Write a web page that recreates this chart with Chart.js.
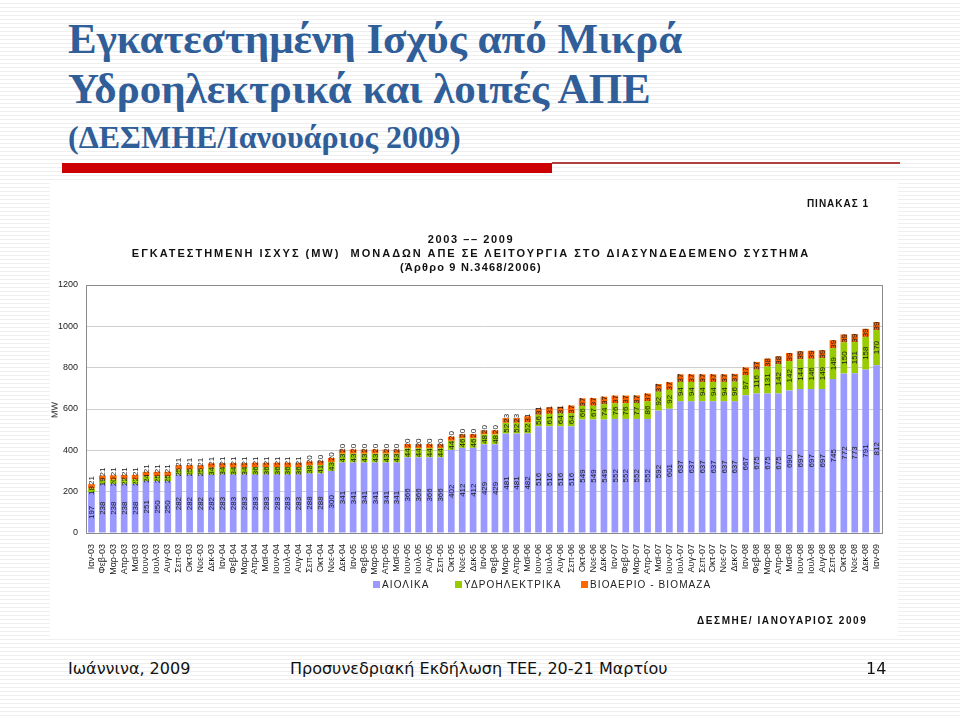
<!DOCTYPE html>
<html><head><meta charset="utf-8">
<script src="https://cdn.jsdelivr.net/npm/chart.js@4"></script>
<style>
html,body{margin:0;padding:0;}
body{width:960px;height:717px;position:relative;overflow:hidden;
 background:#fff repeating-linear-gradient(to bottom,#fff 0,#fff 3px,#efefef 3px,#efefef 4px);
 font-family:"Liberation Sans",Arial,sans-serif;}
.t{position:absolute;white-space:nowrap;transform:translateY(-50%);line-height:1;}
.title{position:absolute;left:68px;font-family:"Liberation Serif","Times New Roman",serif;font-weight:bold;line-height:1;color:#2F5E99;white-space:nowrap;}
.redbar{position:absolute;left:62px;top:163px;width:490px;height:10px;background:#CC0000;}
.thin{position:absolute;left:552px;top:162px;width:348px;height:2px;background:#B04040;}
.panel{position:absolute;left:50px;top:183px;width:848px;height:453px;background:#fff;}
#c{position:absolute;left:40px;top:182px;}
.b{font-weight:bold;color:#111;}
.ctr{transform:translate(-50%,-50%);}
.leg{position:absolute;top:579px;font-size:10px;letter-spacing:1.1px;color:#222;white-space:nowrap;}
.leg i{display:inline-block;width:7px;height:7px;margin-right:2px;vertical-align:0px;}
.foot{position:absolute;top:668px;transform:translateY(-50%);font-family:"DejaVu Sans",Verdana,sans-serif;font-size:16px;color:#111;white-space:nowrap;}
</style></head>
<body>
<div class="title" style="top:17px;font-size:43px;">Εγκατεστημένη Ισχύς από Μικρά</div>
<div class="title" style="top:67px;font-size:43px;">Υδροηλεκτρικά και λοιπές ΑΠΕ</div>
<div class="title" style="top:121px;font-size:32px;">(ΔΕΣΜΗΕ/Ιανουάριος 2009)</div>
<div class="redbar"></div><div class="thin"></div>
<div class="panel"></div>
<canvas id="c" width="860" height="458"></canvas>
<div class="t b ctr" style="left:838px;top:204px;font-size:10px;letter-spacing:1px;">ΠΙΝΑΚΑΣ 1</div>
<div class="t b ctr" style="left:471px;top:239px;font-size:11px;letter-spacing:1.6px;">2003 –– 2009</div>
<div class="t b ctr" style="left:471px;top:253px;font-size:11px;letter-spacing:2px;">ΕΓΚΑΤΕΣΤΗΜΕΝΗ ΙΣΧΥΣ (MW)&nbsp; ΜΟΝΑΔΩΝ ΑΠΕ ΣΕ ΛΕΙΤΟΥΡΓΙΑ ΣΤΟ ΔΙΑΣΥΝΔΕΔΕΜΕΝΟ ΣΥΣΤΗΜΑ</div>
<div class="t b ctr" style="left:471px;top:267px;font-size:11px;letter-spacing:1.2px;">(Άρθρο 9 Ν.3468/2006)</div>
<div class="t" style="left:55px;top:410px;font-size:9px;color:#222;transform:translate(-50%,-50%) rotate(-90deg);">MW</div>
<div class="leg" style="left:373px;"><i style="background:#9999FF"></i>ΑΙΟΛΙΚΑ</div>
<div class="leg" style="left:455px;"><i style="background:#99CC00"></i>ΥΔΡΟΗΛΕΚΤΡΙΚΑ</div>
<div class="leg" style="left:581px;"><i style="background:#FF6600"></i>ΒΙΟΑΕΡΙΟ - ΒΙΟΜΑΖΑ</div>
<div class="t b" style="left:697px;top:621px;font-size:10px;letter-spacing:1.6px;">ΔΕΣΜΗΕ/ ΙΑΝΟΥΑΡΙΟΣ 2009</div>
<div class="foot" style="left:68px;">Ιωάννινα, 2009</div>
<div class="foot" style="left:290px;">Προσυνεδριακή Εκδήλωση ΤΕΕ, 20-21 Μαρτίου</div>
<div class="foot" style="left:866px;">14</div>
<script>
const months = [
 'Ιαν-03','Φεβ-03','Μαρ-03','Απρ-03','Μαϊ-03','Ιουν-03','Ιουλ-03','Αυγ-03','Σεπ-03','Οκτ-03','Νοε-03','Δεκ-03',
 'Ιαν-04','Φεβ-04','Μαρ-04','Απρ-04','Μαϊ-04','Ιουν-04','Ιουλ-04','Αυγ-04','Σεπ-04','Οκτ-04','Νοε-04','Δεκ-04',
 'Ιαν-05','Φεβ-05','Μαρ-05','Απρ-05','Μαϊ-05','Ιουν-05','Ιουλ-05','Αυγ-05','Σεπ-05','Οκτ-05','Νοε-05','Δεκ-05',
 'Ιαν-06','Φεβ-06','Μαρ-06','Απρ-06','Μαϊ-06','Ιουν-06','Ιουλ-06','Αυγ-06','Σεπ-06','Οκτ-06','Νοε-06','Δεκ-06',
 'Ιαν-07','Φεβ-07','Μαρ-07','Απρ-07','Μαϊ-07','Ιουν-07','Ιουλ-07','Αυγ-07','Σεπ-07','Οκτ-07','Νοε-07','Δεκ-07',
 'Ιαν-08','Φεβ-08','Μαρ-08','Απρ-08','Μαϊ-08','Ιουν-08','Ιουλ-08','Αυγ-08','Σεπ-08','Οκτ-08','Νοε-08','Δεκ-08',
 'Ιαν-09'];
const wind = [
 197,238,238,238,238,251,250,250,282,282,282,282,
 283,283,283,283,283,283,283,283,288,288,300,341,
 341,341,341,341,341,366,366,366,366,402,412,412,
 429,429,481,481,482,516,516,516,516,549,549,549,
 552,552,552,552,592,601,637,637,637,637,637,637,
 667,675,675,675,690,697,697,697,745,772,773,791,
 812];
const hydro = [
 18,19,20,22,22,24,25,25,25,25,25,34,
 34,34,34,36,36,36,36,36,38,41,43,43,
 43,43,43,43,43,44,44,44,44,44,46,46,
 48,48,52,52,52,56,61,64,64,66,67,74,
 76,76,77,86,92,92,94,94,94,94,94,96,
 97,116,131,142,142,144,146,149,149,150,151,158,
 170];
const bio = [
 21,21,21,21,21,21,21,21,21,21,21,21,
 21,21,21,21,21,21,21,21,20,20,20,20,
 20,20,20,20,20,20,20,20,20,20,20,20,
 20,20,23,23,31,31,31,31,37,37,37,37,
 37,37,37,37,37,37,37,37,37,37,37,37,
 37,37,38,38,39,39,39,39,39,39,39,39,
 39];
const yTicks = [0,200,400,600,800,1000,1200];

const segLabels = {
  id:'segLabels',
  afterDatasetsDraw(chart){
    const ctx = chart.ctx;
    ctx.save();
    ctx.font = '8px "Liberation Sans", Arial, sans-serif';
    ctx.fillStyle = '#1a1a1a';
    ctx.textAlign = 'center';
    ctx.textBaseline = 'middle';
    const m0 = chart.getDatasetMeta(0), m1 = chart.getDatasetMeta(1), m2 = chart.getDatasetMeta(2);
    const d = chart.data.datasets;
    const draw = (txt,x,y)=>{ctx.save();ctx.translate(x+0.5,y);ctx.rotate(-Math.PI/2);ctx.fillText(txt,0,0);ctx.restore();};
    m0.data.forEach((bar,j)=>{
      const b0 = bar, b1 = m1.data[j], b2 = m2.data[j];
      const t0 = String(d[0].data[j]), t1 = String(d[1].data[j]), t2 = String(d[2].data[j]);
      draw(t0, b0.x, (b0.y+b0.base)/2);
      const w1 = ctx.measureText(t1).width, w2 = ctx.measureText(t2).width;
      let c1 = (b1.y+b1.base)/2;
      let c2 = (b2.y+b2.base)/2;
      const minGap = w1/2 + w2/2 + 1;
      if (c1 - c2 < minGap) { c2 = c1 - minGap; }
      draw(t1, b1.x, c1);
      draw(t2, b2.x, c2);
    });
    ctx.restore();
  }
};
const frame = {
  id:'frame',
  afterDraw(chart){
    const a = chart.chartArea, ctx = chart.ctx;
    ctx.save(); ctx.strokeStyle = '#8c8c8c'; ctx.lineWidth = 1;
    ctx.strokeRect(Math.round(a.left)+0.5, Math.round(a.top)+0.5, Math.round(a.right-a.left), Math.round(a.bottom-a.top));
    ctx.restore();
  }
};

new Chart(document.getElementById('c'), {
  type:'bar',
  data:{
    labels: months,
    datasets:[
      {label:'ΑΙΟΛΙΚΑ', data:wind, backgroundColor:'#9999FF'},
      {label:'ΥΔΡΟΗΛΕΚΤΡΙΚΑ', data:hydro, backgroundColor:'#99CC00'},
      {label:'ΒΙΟΑΕΡΙΟ - ΒΙΟΜΑΖΑ', data:bio, backgroundColor:'#FF6600'}
    ]
  },
  options:{
    responsive:false, animation:false, devicePixelRatio:1,
    layout:{padding:{left:6,right:18,top:103,bottom:62}},
    datasets:{bar:{categoryPercentage:0.9, barPercentage:0.68}},
    plugins:{legend:{display:false}, tooltip:{enabled:false}},
    scales:{
      x:{stacked:true,
         grid:{display:false},
         border:{color:'#8c8c8c'},
         ticks:{autoSkip:false,maxRotation:90,minRotation:90,padding:3,color:'#1a1a1a',font:{size:9,family:'"Liberation Sans", Arial, sans-serif'}},
         afterFit(s){s.height=45;}
      },
      y:{stacked:true,min:0,max:1200,
         afterBuildTicks(s){s.ticks = yTicks.map(v=>({value:v}));},
         grid:{color:'#cfcfcf',drawTicks:false},
         border:{color:'#8c8c8c'},
         ticks:{padding:8,color:'#1a1a1a',font:{size:9,family:'"Liberation Sans", Arial, sans-serif'},
                callback:(v)=>String(v)},
         afterFit(s){s.width=40;}
      }
    }
  },
  plugins:[segLabels, frame]
});
</script>
</body></html>
